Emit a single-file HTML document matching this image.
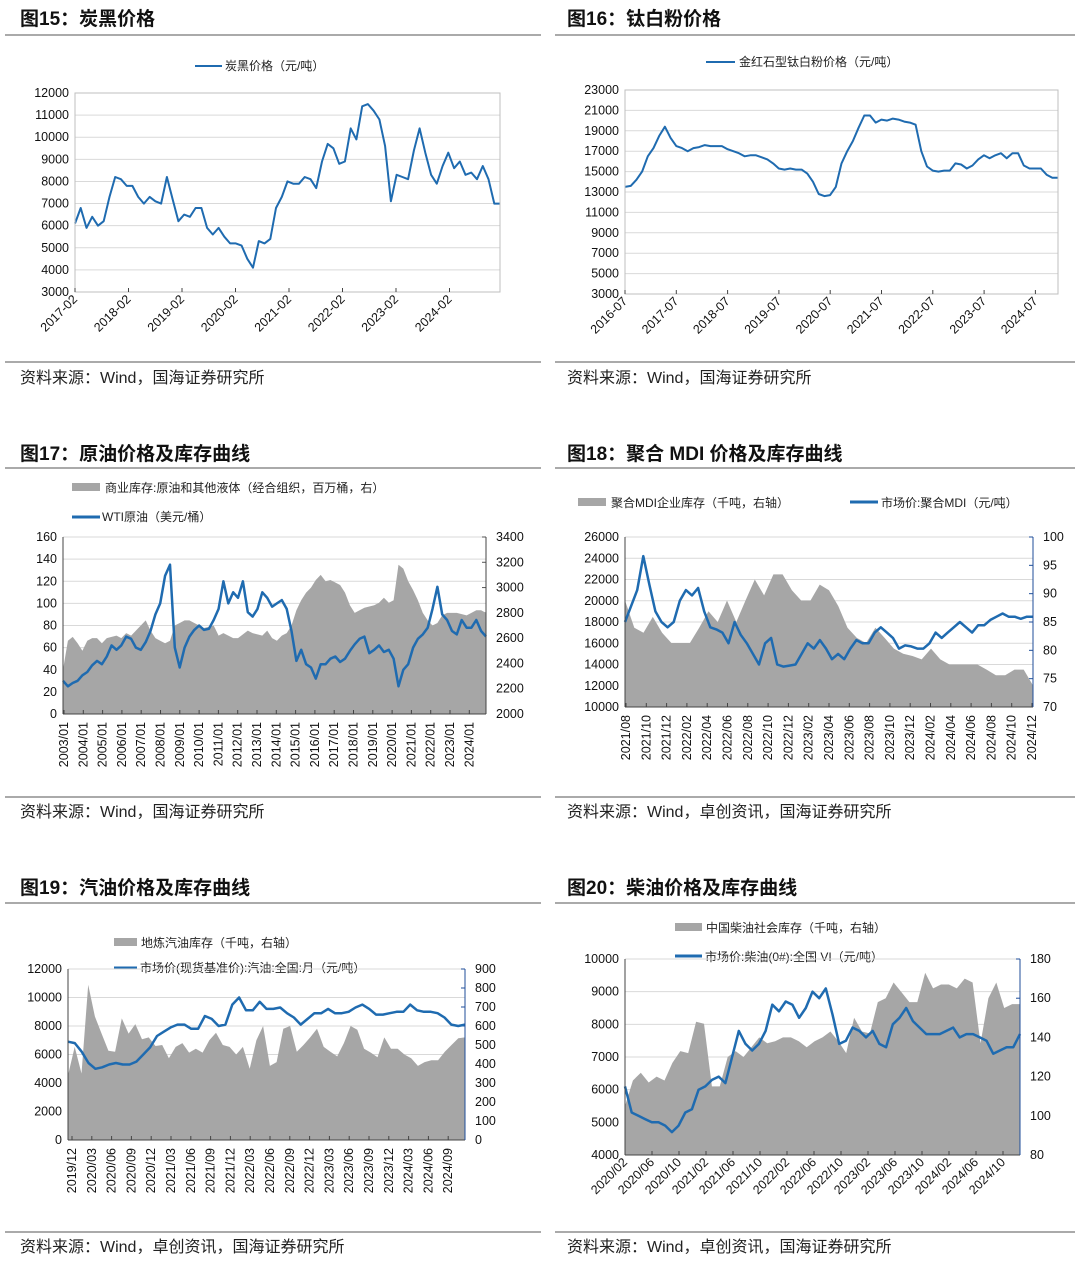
<!DOCTYPE html>
<html><head><meta charset="utf-8"><style>
body{margin:0;background:#fff;}
svg{display:block;font-family:"Liberation Sans","Noto Sans CJK SC",sans-serif;}
.t{font-size:19px;font-weight:bold;fill:#111;}
.src{font-size:16px;fill:#222;}
.tk{font-size:12.5px;fill:#111;}
.lg{font-size:12px;fill:#222;}
</style></head><body>
<svg id="s" width="1080" height="1274" viewBox="0 0 1080 1274">
<g stroke="#555" stroke-width="1">
<line x1="5" y1="35" x2="541" y2="35"/><line x1="555" y1="35" x2="1075" y2="35"/>
<line x1="5" y1="362" x2="541" y2="362"/><line x1="555" y1="362" x2="1075" y2="362"/>
<line x1="5" y1="468" x2="541" y2="468"/><line x1="555" y1="468" x2="1075" y2="468"/>
<line x1="5" y1="797" x2="541" y2="797"/><line x1="555" y1="797" x2="1075" y2="797"/>
<line x1="5" y1="903" x2="541" y2="903"/><line x1="555" y1="903" x2="1075" y2="903"/>
<line x1="5" y1="1232" x2="541" y2="1232"/><line x1="555" y1="1232" x2="1075" y2="1232"/>
</g>
<text class="t" x="20" y="25">图15：炭黑价格</text>
<text class="t" x="567" y="25">图16：钛白粉价格</text>
<text class="t" x="20" y="460">图17：原油价格及库存曲线</text>
<text class="t" x="567" y="460">图18：聚合 MDI 价格及库存曲线</text>
<text class="t" x="20" y="894">图19：汽油价格及库存曲线</text>
<text class="t" x="567" y="894">图20：柴油价格及库存曲线</text>
<text class="src" x="20" y="383">资料来源：Wind，国海证券研究所</text>
<text class="src" x="567" y="383">资料来源：Wind，国海证券研究所</text>
<text class="src" x="20" y="817">资料来源：Wind，国海证券研究所</text>
<text class="src" x="567" y="817">资料来源：Wind，卓创资讯，国海证券研究所</text>
<text class="src" x="20" y="1252">资料来源：Wind，卓创资讯，国海证券研究所</text>
<text class="src" x="567" y="1252">资料来源：Wind，卓创资讯，国海证券研究所</text>

<g>
<line x1="195" y1="66" x2="222" y2="66" stroke="#1f6bb0" stroke-width="2"/><text class="lg" x="225" y="70">炭黑价格（元/吨）</text>
<line x1="706" y1="62" x2="735" y2="62" stroke="#1f6bb0" stroke-width="2"/><text class="lg" x="739" y="66">金红石型钛白粉价格（元/吨）</text>
<rect x="72" y="483" width="28" height="8" fill="#a6a6a6"/><text class="lg" x="105" y="492">商业库存:原油和其他液体（经合组织，百万桶，右）</text>
<line x1="72" y1="517" x2="100" y2="517" stroke="#1f6bb0" stroke-width="3"/><text class="lg" x="102" y="521">WTI原油（美元/桶）</text>
<rect x="578" y="498" width="28" height="8" fill="#a6a6a6"/><text class="lg" x="611" y="507">聚合MDI企业库存（千吨，右轴）</text>
<line x1="850" y1="502" x2="878" y2="502" stroke="#1f6bb0" stroke-width="3"/><text class="lg" x="881" y="507">市场价:聚合MDI（元/吨）</text>
<rect x="114" y="938" width="23" height="8" fill="#a6a6a6"/><text class="lg" x="141" y="947">地炼汽油库存（千吨，右轴）</text>
<line x1="114" y1="968" x2="137" y2="968" stroke="#1f6bb0" stroke-width="3"/><text class="lg" x="140" y="972">市场价(现货基准价):汽油:全国:月（元/吨）</text>
<rect x="675" y="923" width="27" height="8" fill="#a6a6a6"/><text class="lg" x="706" y="932">中国柴油社会库存（千吨，右轴）</text>
<line x1="675" y1="956" x2="702" y2="956" stroke="#1f6bb0" stroke-width="3"/><text class="lg" x="705" y="961">市场价:柴油(0#):全国 VI（元/吨）</text>
</g>
</svg>
<script>
// ---- Fig15 carbon black ----
const c15Labels=["2017-02","2018-02","2019-02","2020-02","2021-02","2022-02","2023-02","2024-02"];
const c15Ticks=[3000,4000,5000,6000,7000,8000,9000,10000,11000,12000];
const c15Price=[6100,6800,5900,6400,6000,6200,7300,8200,8100,7800,7800,7300,7000,7300,7100,7000,8200,7200,6200,6500,6400,6800,6800,5900,5600,5900,5500,5200,5200,5100,4500,4100,5300,5200,5400,6800,7300,8000,7900,7900,8200,8100,7700,8900,9700,9500,8800,8900,10400,9900,11400,11500,11200,10800,9600,7100,8300,8200,8100,9400,10400,9300,8300,7900,8700,9300,8600,8900,8300,8400,8100,8700,8100,7000,7000];
// ---- Fig16 TiO2 ----
const c16Labels=["2016-07","2017-07","2018-07","2019-07","2020-07","2021-07","2022-07","2023-07","2024-07"];
const c16Ticks=[3000,5000,7000,9000,11000,13000,15000,17000,19000,21000,23000];
const c16Price=[13500,13600,14200,15000,16500,17300,18500,19400,18300,17500,17300,17000,17300,17400,17600,17500,17500,17500,17200,17000,16800,16500,16600,16600,16400,16200,15800,15300,15200,15300,15200,15200,14800,14000,12800,12600,12700,13500,15800,17000,18000,19300,20500,20500,19800,20100,20000,20200,20100,19900,19800,19600,17000,15500,15100,15000,15100,15100,15800,15700,15300,15600,16200,16600,16300,16600,16800,16300,16800,16800,15600,15300,15300,15300,14700,14400,14400];
// ---- Fig17 crude ----
const c17Labels=["2003/01","2004/01","2005/01","2006/01","2007/01","2008/01","2009/01","2010/01","2011/01","2012/01","2013/01","2014/01","2015/01","2016/01","2017/01","2018/01","2019/01","2020/01","2021/01","2022/01","2023/01","2024/01"];
const c17LeftTicks=[0,20,40,60,80,100,120,140,160];
const c17RightTicks=[2000,2200,2400,2600,2800,3000,3200,3400];
const c17Wti=[30,25,28,30,35,38,44,48,45,52,62,58,62,70,68,60,58,65,75,90,100,125,135,60,42,60,70,76,80,76,77,85,95,120,100,110,105,120,92,88,95,110,105,97,100,103,95,75,48,58,45,42,32,45,45,50,52,47,50,57,63,68,70,55,58,62,56,58,50,25,40,45,60,68,72,78,95,115,90,85,75,72,85,78,78,85,75,70];
const c17Stock=[2350,2580,2610,2560,2500,2580,2600,2600,2560,2600,2610,2620,2600,2640,2620,2660,2700,2740,2660,2600,2580,2560,2580,2700,2720,2740,2740,2720,2700,2680,2690,2700,2620,2640,2620,2600,2600,2630,2660,2640,2630,2620,2660,2600,2580,2620,2640,2700,2820,2900,2960,3000,3060,3100,3050,3060,3040,3020,2960,2860,2800,2820,2840,2850,2860,2880,2920,2880,2900,3180,3150,3050,2980,2900,2800,2740,2700,2720,2780,2800,2800,2800,2790,2780,2800,2820,2820,2800];
// ---- Fig18 MDI ----
const c18Labels=["2021/08","2021/10","2021/12","2022/02","2022/04","2022/06","2022/08","2022/10","2022/12","2023/02","2023/04","2023/06","2023/08","2023/10","2023/12","2024/02","2024/04","2024/06","2024/08","2024/10","2024/12"];
const c18LeftTicks=[10000,12000,14000,16000,18000,20000,22000,24000,26000];
const c18RightTicks=[70,75,80,85,90,95,100];
const c18Price=[18000,19500,21000,24200,21500,19000,18000,17500,18000,20000,21000,20500,21200,19000,17500,17300,17000,16000,18000,16800,16000,15000,14000,16000,16500,14000,13800,13900,14000,15000,16000,15500,16300,15500,14500,15000,14500,15500,16300,16000,16000,17000,17500,17000,16500,15500,15800,15700,15500,15500,16000,17000,16500,17000,17500,18000,17500,17000,17700,17700,18200,18500,18800,18500,18500,18300,18500,18500];
const c18Stock=[88.8,84,83.1,85.9,83.1,81.3,81.3,81.3,84,86.9,85,88.8,85,88.8,92.5,89.7,93.4,93.4,90.6,88.8,88.8,91.6,90.6,87.8,84,82.2,81.3,84,82.2,80.3,79.4,79,78.4,80.3,78.4,77.5,77.5,77.5,77.5,76.6,75.6,75.6,76.6,76.6,73.8];
// ---- Fig19 gasoline ----
const c19Labels=["2019/12","2020/03","2020/06","2020/09","2020/12","2021/03","2021/06","2021/09","2021/12","2022/03","2022/06","2022/09","2022/12","2023/03","2023/06","2023/09","2023/12","2024/03","2024/06","2024/09"];
const c19LeftTicks=[0,2000,4000,6000,8000,10000,12000];
const c19RightTicks=[0,100,200,300,400,500,600,700,800,900];
const c19Price=[6900,6800,6200,5400,5000,5100,5300,5400,5300,5300,5500,6000,6500,7300,7600,7900,8100,8100,7800,7800,8700,8500,8000,8100,9500,10000,9100,9100,9700,9200,9200,9300,8900,8600,8100,8500,8900,8900,9200,8900,8900,9000,9300,9500,9200,8800,8800,8900,9000,9000,9500,9100,9000,9000,8900,8600,8100,8000,8100];
const c19Stock=[340,490,350,817,650,560,470,465,640,560,610,530,540,495,500,430,490,510,460,480,460,525,565,500,490,450,490,375,525,600,390,410,585,600,465,500,540,585,490,465,440,510,600,580,480,460,435,540,480,480,450,430,390,410,420,420,465,500,535,540];
// ---- Fig20 diesel ----
const c20Labels=["2020/02","2020/06","2020/10","2021/02","2021/06","2021/10","2022/02","2022/06","2022/10","2023/02","2023/06","2023/10","2024/02","2024/06","2024/10"];
const c20LeftTicks=[4000,5000,6000,7000,8000,9000,10000];
const c20RightTicks=[80,100,120,140,160,180];
const c20Price=[6100,5300,5200,5100,5000,5000,4900,4700,4900,5300,5400,6000,6100,6300,6400,6200,7000,7800,7400,7200,7400,7800,8600,8400,8700,8600,8200,8500,9000,8800,9100,8300,7400,7500,7900,7800,7600,7800,7400,7300,8000,8200,8500,8100,7900,7700,7700,7700,7800,7900,7600,7700,7700,7600,7500,7100,7200,7300,7300,7700];
const c20Stock=[105,118,122,117,120,118,127,133,132,148,147,115,115,130,133,130,135,140,137,138,140,140,138,135,138,140,143,138,132,150,143,142,158,160,168,163,158,158,173,165,167,167,165,170,168,137,160,168,155,157,157];

const NS="http://www.w3.org/2000/svg";
const svg=document.getElementById('s');
function mk(tag,attrs,parent){const e=document.createElementNS(NS,tag);for(const k in attrs)e.setAttribute(k,attrs[k]);(parent||svg).appendChild(e);return e;}
function scale(d0,d1,r0,r1){return v=>r0+(v-d0)/(d1-d0)*(r1-r0);}
function pts(vals,x0,x1,ys){return vals.map((v,i)=>[x0+i*(x1-x0)/(vals.length-1),ys(v)]);}

function chart(c){
  const g=mk('g',{});
  
  
  const yl=scale(c.lt[0],c.lt[c.lt.length-1],c.y1,c.y0);
  const yr=c.rt?scale(c.rt[0],c.rt[c.rt.length-1],c.y1,c.y0):null;
  c.lt.forEach(t=>{const y=yl(t);
    const gl=mk('line',{x1:c.x0,x2:c.x1,y1:y,y2:y,stroke:'#d9d9d9','stroke-width':1},g);
    
    
    const tx=mk('text',{class:'tk',x:c.x0-(c.lpad||6),y:y+4,'text-anchor':'end'},g);tx.textContent=t;
    
    
  });
  if(c.rt)c.rt.forEach(t=>{const y=yr(t);
    const tx=mk('text',{class:'tk',x:c.x1+10,y:y+4},g);tx.textContent=t;
    
    
    mk('line',{x1:c.x1-4,x2:c.x1,y1:y,y2:y,stroke:c.rc||'#555'},g);
  });
  if(c.area){
    const p=pts(c.area,c.x0,c.x1,c.aAxis==='r'?yr:yl);
    const d='M'+c.x0+','+c.y1+' L'+p.map(q=>q[0].toFixed(1)+','+q[1].toFixed(1)).join(' L')+' L'+c.x1+','+c.y1+' Z';
    const a=mk('path',{d:d,fill:'#a6a6a6'},g);
    
    
  }
  const p=pts(c.line,c.x0,c.x1,c.lAxis==='r'?yr:yl);
  const ln=mk('path',{d:'M'+p.map(q=>q[0].toFixed(1)+','+q[1].toFixed(1)).join(' L'),fill:'none',stroke:'#1f6bb0','stroke-width':c.lw||2,'stroke-linejoin':'round'},g);
  
  
  // axes
  if(c.box){mk('rect',{x:c.x0,y:c.y0,width:c.x1-c.x0,height:c.y1-c.y0,fill:'none',stroke:'#bfbfbf'},g);}
  else{
    mk('line',{x1:c.x0,x2:c.x0,y1:c.y0,y2:c.y1,stroke:'#444'},g);
    mk('line',{x1:c.x0,x2:c.x1,y1:c.y1,y2:c.y1,stroke:'#444'},g);
    mk('line',{x1:c.x1,x2:c.x1,y1:c.y0,y2:c.y1,stroke:c.rc||'#444'},g);
  }
  c.xl.forEach((l,i)=>{const x=c.lx0+i*c.ldx;
    mk('line',{x1:x,x2:x,y1:c.y1,y2:c.y1-4,stroke:'#444'},g);
    const tx=mk('text',{class:'tk','text-anchor':'end',transform:'translate('+(x+(c.rot===-90?4:3))+','+(c.y1+8)+') rotate('+c.rot+')'},g);
    tx.textContent=l;
    
    
  });
}
chart({name:'chart-carbon-black',x0:75,x1:500,y0:93,y1:292,lt:c15Ticks,line:c15Price,xl:c15Labels,lx0:75,ldx:53.5,rot:-45,box:true,lw:2});
chart({name:'chart-titanium-dioxide',x0:625,x1:1058,y0:90,y1:294,lt:c16Ticks,line:c16Price,xl:c16Labels,lx0:625,ldx:51.3,rot:-45,box:true,lw:2});
chart({name:'chart-crude-oil',x0:63,x1:486,y0:537,y1:714,lt:c17LeftTicks,rt:c17RightTicks,area:c17Stock,aAxis:'r',line:c17Wti,xl:c17Labels,lx0:64,ldx:19.3,rot:-90,lw:2.5});
chart({name:'chart-mdi',x0:625,x1:1033,y0:537,y1:707,lt:c18LeftTicks,rt:c18RightTicks,rc:'#1f4e9a',area:c18Stock,aAxis:'r',line:c18Price,xl:c18Labels,lx0:626,ldx:20.3,rot:-90,lw:2.5});
chart({name:'chart-gasoline',x0:68,x1:465,y0:969,y1:1140,lt:c19LeftTicks,rt:c19RightTicks,rc:'#1f4e9a',area:c19Stock,aAxis:'r',line:c19Price,xl:c19Labels,lx0:72,ldx:19.8,rot:-90,lw:2.5});
chart({name:'chart-diesel',x0:625,x1:1020,y0:959,y1:1155,lt:c20LeftTicks,rt:c20RightTicks,rc:'#1f4e9a',area:c20Stock,aAxis:'r',line:c20Price,xl:c20Labels,lx0:625,ldx:27,rot:-45,lw:2.5});
</script>
</body></html>
